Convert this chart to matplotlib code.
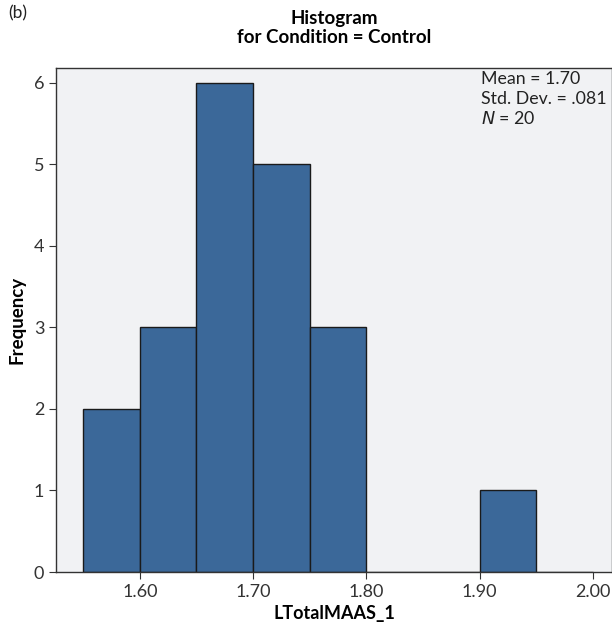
import numpy as np
from matplotlib import pyplot as plt

# histogram of LTotalMAAS_1, control group
bin_left = [1.55, 1.60, 1.65, 1.70, 1.75, 1.80, 1.85, 1.90, 1.95]
counts = [2, 3, 6, 5, 3, 0, 0, 1, 0]
bin_width = 0.05
x_ticks = [1.60, 1.70, 1.80, 1.90, 2.00]
x_ticklabels = ['1.60', '1.70', '1.80', '1.90', '2.00']
y_ticks = [0, 1, 2, 3, 4, 5, 6]
stats_lines = ['Mean = 1.70', 'Std. Dev. = .081', '$\\it{N}$ = 20']

plt.rcParams['font.family'] = ['Lato', 'DejaVu Sans']

fig = plt.figure(figsize=(6.12, 6.24), dpi=100)
ax = fig.add_axes([0.0915, 0.0833, 0.9085, 0.8077])
ax.set_facecolor('#f1f2f4')

ax.bar(bin_left, counts, width=bin_width, align='edge',
       color='#3b6899', edgecolor='#1a1a1a', linewidth=1.0)

ax.set_xlim(1.526, 2.017)
ax.set_ylim(0, 6.18)
ax.set_xticks(x_ticks)
ax.set_xticklabels(x_ticklabels)
ax.set_yticks(y_ticks)
ax.tick_params(labelsize=13, color='#333333', length=5, labelcolor='#333333')

for s in ax.spines.values():
    s.set_color('#333333')
    s.set_linewidth(1.0)

ax.set_xlabel('LTotalMAAS_1', fontsize=13, fontweight='bold', labelpad=4)
ax.set_ylabel('Frequency', fontsize=13.5, fontweight='bold', labelpad=6)
ax.set_title('Histogram\nfor Condition = Control', fontsize=13.5,
             fontweight='bold', pad=18, linespacing=1.15)

for i, line in enumerate(stats_lines):
    fig.text(481 / 612, 1 - (79 + 20 * i) / 624, line, fontsize=12.8,
             color='#222222', va='center', ha='left')

fig.text(8 / 612, 1 - 13 / 624, '(b)', fontsize=12.5, color='#222222',
         va='center', ha='left')

fig.savefig('out.png', dpi=100)
